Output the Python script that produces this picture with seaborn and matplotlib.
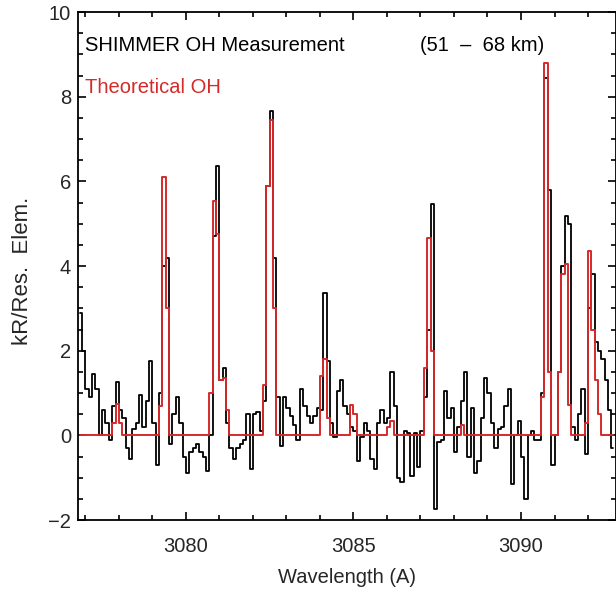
import numpy as np
import pandas as pd
import matplotlib
matplotlib.use("Agg")
import matplotlib.pyplot as plt
import seaborn as sns
from matplotlib import font_manager
from matplotlib.ticker import MultipleLocator

# ---------------- data ----------------
wl_start = 3076.8          # left edge of first resolution element (A)
bin_width = 0.1            # width of one resolution element (A)

measured = [
    2.9, 2.0, 1.1, 0.9, 1.45, 1.1, 0.0, 0.6, 0.3, -0.1,
    0.7, 1.25, 0.6, 0.4, -0.3, -0.55, 0.15, 0.3, 0.95, 0.2,
    0.8, 1.75, 0.3, -0.7, 1.0, 4.0, 4.2, -0.2, 0.5, 0.9,
    0.3, -0.5, -0.9, -0.4, -0.3, -0.2, -0.4, -0.5, -0.85, 0.0,
    4.7, 6.37, 1.3, 1.6, 0.3, -0.3, -0.55, -0.3, -0.2, -0.1,
    0.5, -0.8, 0.5, 0.55, 0.1, 0.8, 5.9, 7.65, 4.2, 0.9,
    -0.25, 0.9, 0.65, 0.45, 0.25, -0.1, 1.1, 0.7, 0.45, 0.3,
    0.45, 0.65, 0.6, 3.37, 1.75, 0.3, -0.05, 1.05, 1.3, 0.7,
    0.5, 0.2, 0.1, -0.6, -0.05, 0.3, 0.1, -0.55, -0.8, 0.3,
    0.6, 0.3, 0.4, 1.5, 0.7, -1.0, -1.1, 0.1, 0.05, -0.95,
    0.05, -0.75, 0.1, 0.9, 2.5, 5.46, -1.75, -0.15, -0.1, 1.05,
    0.4, 0.65, -0.4, 0.2, 0.8, 1.5, -0.5, 0.65, -0.9, -0.6,
    0.4, 1.35, 1.0, 0.3, -0.3, 0.15, 0.2, 0.7, 1.1, -1.15,
    0.0, 0.35, -0.5, -1.5, 0.0, 0.1, -0.1, -0.1, 1.0, 8.45,
    5.8, -0.7, 0.0, 1.5, 4.0, 5.18, 5.0, 0.2, -0.1, 0.5,
    1.1, -0.45, 3.0, 3.8, 2.2, 2.0, 1.8, 1.3, 0.6, -0.3,
]

theory = [
    0, 0, 0, 0, 0, 0, 0, 0, 0, 0,
    0.3, 0.75, 0.3, 0, 0, 0, 0, 0, 0, 0,
    0, 0, 0, 0, 0.7, 6.1, 3.0, 0, 0, 0,
    0, 0, 0, 0, 0, 0, 0, 0, 0, 1.0,
    5.54, 4.76, 1.3, 1.35, 0.6, 0, 0, 0, 0, 0,
    0, 0, 0, 0, 0, 1.2, 5.9, 7.45, 3.0, 0,
    0, 0, 0, 0, 0, 0, 0, 0, 0, 0,
    0, 0, 1.4, 1.8, 0.4, 0, 0, 0, 0, 0,
    0, 0.72, 0.5, 0, 0, 0, 0, 0, 0, 0,
    0, 0, 0.2, 0.33, 0, 0, 0, 0, 0, 0,
    0, 0, 0, 1.6, 4.67, 2.0, 0, 0, 0, 0,
    0, 0, 0, 0, 0.25, 0, 0, 0, 0, 0,
    0, 0, 0, 0, 0, 0, 0, 0, 0, 0,
    0, 0, 0, 0, 0, 0, 0, 0, 0.9, 8.8,
    1.5, 0, 0, 1.5, 3.8, 4.04, 0.72, 0, 0, 0,
    0, 0.3, 4.35, 2.5, 1.3, 0.5, 0, 0, 0, 0,
]

x_major = [3080, 3085, 3090]
y_major = [-2, 0, 2, 4, 6, 8, 10]

title_left = "SHIMMER OH Measurement"
title_right = "(51  \u2013  68 km)"
theory_label = "Theoretical OH"
x_label = "Wavelength (A)"
y_label = "kR/Res.  Elem."

# ---------------- style ----------------
sns.set_style("ticks")


def has_font(name):
    try:
        font_manager.findfont(font_manager.FontProperties(family=name),
                              fallback_to_default=False)
        return True
    except Exception:
        return False


if has_font("Liberation Sans Narrow"):
    fam = ["Liberation Sans Narrow", "DejaVu Sans"]
    fs = 17
    fs_y = 19
else:
    fam = ["Liberation Sans", "DejaVu Sans"]
    fs = 14.5
    fs_y = 16
plt.rcParams["font.family"] = fam

RED = "#d42a2a"

df = pd.DataFrame({
    "wavelength": wl_start + bin_width * (np.arange(len(measured)) + 0.5),
    "measured": measured,
    "theory": theory,
})

fig = plt.figure(figsize=(6.16, 5.92), dpi=100)
ax = fig.add_axes([78 / 616, 1 - 520 / 592, 537.5 / 616, 508 / 592])

sns.lineplot(data=df, x="wavelength", y="measured", drawstyle="steps-mid",
             color="black", lw=1.3, estimator=None, ax=ax)
sns.lineplot(data=df, x="wavelength", y="theory", drawstyle="steps-mid",
             color=RED, lw=1.4, estimator=None, ax=ax)

ax.set_xlim(3076.78, 3092.82)
ax.set_ylim(-2, 10)
ax.set_xticks(x_major)
ax.set_yticks(y_major)
ax.xaxis.set_minor_locator(MultipleLocator(1))
ax.yaxis.set_minor_locator(MultipleLocator(0.5))
ax.tick_params(which="both", direction="in", top=True, right=True,
               width=1.2, color="black")
ax.tick_params(which="major", length=6)
ax.tick_params(which="minor", length=3.3)
ax.tick_params(axis="x", which="major", pad=12, labelsize=fs)
ax.tick_params(axis="y", which="major", pad=5, labelsize=fs)
for s in ax.spines.values():
    s.set_linewidth(1.3)
    s.set_color("black")

ax.set_xlabel(x_label, fontsize=fs)
ax.set_ylabel(y_label, fontsize=fs_y, va="center")
ax.xaxis.set_label_coords(0.5, -0.095)
ax.yaxis.set_label_coords(-0.104, 0.491)

ax.text(0.013, 0.935, title_left, transform=ax.transAxes, fontsize=fs,
        ha="left", va="center", color="black")
ax.text(0.636, 0.935, title_right, transform=ax.transAxes, fontsize=fs,
        ha="left", va="center", color="black")
ax.text(0.013, 0.852, theory_label, transform=ax.transAxes, fontsize=fs,
        ha="left", va="center", color=RED)

fig.savefig("out.png", dpi=100, facecolor="white")
